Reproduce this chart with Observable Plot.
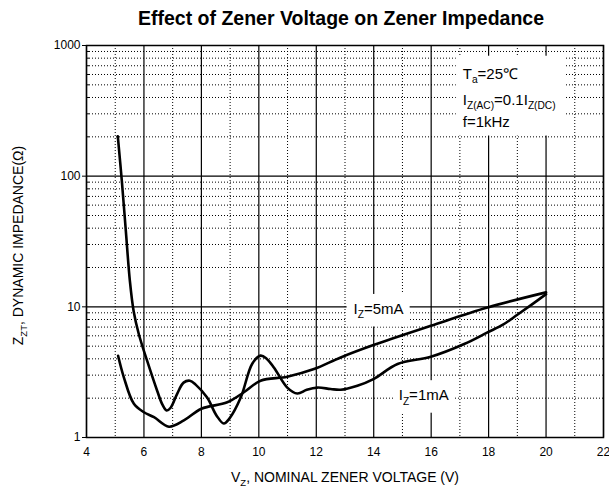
<!DOCTYPE html>
<html>
<head>
<meta charset="utf-8">
<script src="https://cdn.jsdelivr.net/npm/d3@7"></script>
<script src="https://cdn.jsdelivr.net/npm/@observablehq/plot@0.6"></script>
<style>
  body { margin: 0; background: #fff; }
  svg { font-family: "Liberation Sans", Arial, sans-serif; }
</style>
</head>
<body>
<div id="chart"></div>
<script>
// ---- data ----
// Iz = 1mA curve (nominal zener voltage V, impedance ohm)
const vz1mA = [5.09, 5.23, 5.37, 5.51, 5.64, 5.82, 6.11, 6.46, 6.64, 6.79, 6.93, 7.16, 7.38, 7.6, 7.8, 8.2, 8.53, 8.78, 8.98, 9.37, 9.77, 10.06, 10.27, 10.53, 10.99, 11.34, 11.67, 12.04, 12.5, 12.85, 13.43, 13.99, 14.83, 15.99, 17.15, 17.96, 18.5, 19.0, 19.5, 20.0];
const zz1mA = [202, 92, 38, 15.8, 9.3, 6.2, 3.87, 2.28, 1.79, 1.61, 1.69, 2.17, 2.63, 2.72, 2.54, 2.02, 1.47, 1.28, 1.40, 2.02, 3.67, 4.23, 4.01, 3.42, 2.41, 2.17, 2.32, 2.41, 2.35, 2.32, 2.49, 2.8, 3.65, 4.15, 5.19, 6.37, 7.3, 8.7, 10.4, 12.5];
// Iz = 5mA curve
const vz5mA = [5.1, 5.3, 5.65, 6.0, 6.35, 6.87, 7.39, 8.0, 8.9, 9.48, 10.06, 10.99, 11.92, 12.85, 13.99, 15.99, 17.96, 20.0];
const zz5mA = [4.22, 2.89, 1.81, 1.56, 1.43, 1.21, 1.35, 1.66, 1.86, 2.22, 2.72, 2.92, 3.34, 4.1, 5.1, 7.16, 9.88, 12.9];

// ---- ticks / grid ----
const xTicks = [4, 6, 8, 10, 12, 14, 16, 18, 20, 22];
const xMinorGrid = [5, 7, 9, 11, 13, 15, 17, 19, 21];
const yTicks = [1, 10, 100, 1000];
const yMinorGrid = [2, 3, 4, 5, 6, 7, 8, 9, 20, 30, 40, 50, 60, 70, 80, 90, 200, 300, 400, 500, 600, 700, 800, 900];

// ---- texts ----
const titleText = "Effect of Zener Voltage on Zener Impedance";
const xLabelText = "V_{Z}, NOMINAL ZENER VOLTAGE (V)";
const yLabelText = "Z_{ZT}, DYNAMIC IMPEDANCE(Ω)";
const curveLabels = ["I_{Z}=5mA", "I_{Z}=1mA"];
const curveLabelX = [13.3, 14.87];
const curveLabelY = [9.6, 2.1];
const condLines = ["T_{a}=25℃", "I_{Z(AC)}=0.1I_{Z(DC)}", "f=1kHz"];
const condX = [17.1, 17.1, 17.1];
const condY = [606, 384, 261];

const line1 = vz1mA.map((v, i) => ({x: v, y: zz1mA[i]}));
const line5 = vz5mA.map((v, i) => ({x: v, y: zz5mA[i]}));

const dotted = {stroke: "#000", strokeWidth: 1, strokeDasharray: "1 2"};
const solid = {stroke: "#000", strokeWidth: 1.2};

const chart = Plot.plot({
  width: 609,
  height: 492,
  marginLeft: 86,
  marginRight: 6,
  marginTop: 45,
  marginBottom: 55,
  style: {fontFamily: "Liberation Sans, Arial, sans-serif", fontSize: "12px", color: "#000", background: "#fff", overflow: "visible"},
  x: {domain: [4, 22], ticks: xTicks, tickSize: 0, tickPadding: 10, label: null},
  y: {type: "log", domain: [1, 1000], ticks: yTicks, tickFormat: d => String(d), tickSize: 4, tickPadding: 2, label: null},
  marks: [
    Plot.ruleY(yMinorGrid, dotted),
    Plot.ruleX(xMinorGrid, dotted),
    Plot.ruleY(yTicks, solid),
    Plot.ruleX(xTicks, solid),
    Plot.tickY(yMinorGrid, {stroke: "#000", strokeWidth: 1, insetRight: 514}),
    Plot.frame({stroke: "#000", strokeWidth: 1.5}),
    Plot.line(line1, {x: "x", y: "y", stroke: "#000", strokeWidth: 2.6, curve: "catmull-rom"}),
    Plot.line(line5, {x: "x", y: "y", stroke: "#000", strokeWidth: 2.6, curve: "catmull-rom"}),
    Plot.text([0], {x: () => curveLabelX[0], y: () => curveLabelY[0], text: () => curveLabels[0], textAnchor: "start", fontSize: 15, fill: "#000", className: "boxed-5"}),
    Plot.text([0], {x: () => curveLabelX[1], y: () => curveLabelY[1], text: () => curveLabels[1], textAnchor: "start", fontSize: 15, fill: "#000", className: "boxed-1"}),
    Plot.text(condLines, {x: (d, i) => condX[i], y: (d, i) => condY[i], text: d => d, textAnchor: "start", fontSize: 15, fill: "#000", className: "boxed-cond"}),
    Plot.text([titleText], {frameAnchor: "top", dx: -4, dy: -26.5, lineAnchor: "middle", textAnchor: "middle", text: d => d, fontSize: 19.5, fontWeight: "bold", fill: "#000"}),
    Plot.text([xLabelText], {frameAnchor: "bottom", dy: 40, lineAnchor: "middle", textAnchor: "middle", text: d => d, fontSize: 14, fill: "#000"}),
    Plot.text([yLabelText], {frameAnchor: "left", dx: -68, dy: 4, rotate: -90, lineAnchor: "middle", textAnchor: "middle", text: d => d, fontSize: 14, fill: "#000"})
  ]
});

document.getElementById("chart").appendChild(chart);

// subscripts: "_{...}" -> lowered smaller tspan
chart.querySelectorAll("text").forEach(t => {
  const s = t.textContent;
  if (!s.includes("_{")) return;
  const fs = parseFloat(getComputedStyle(t).fontSize) || 12;
  const parts = s.split(/_\{([^}]*)\}/);
  while (t.firstChild) t.removeChild(t.firstChild);
  let lowered = false;
  parts.forEach((p, i) => {
    if (!p) { return; }
    const ts = document.createElementNS("http://www.w3.org/2000/svg", "tspan");
    ts.textContent = p;
    if (i % 2 === 1) {
      ts.setAttribute("font-size", (fs * 0.68).toFixed(1));
      if (!lowered) { ts.setAttribute("dy", (fs * 0.3).toFixed(1)); lowered = true; }
    } else if (lowered) {
      ts.setAttribute("dy", (-fs * 0.3).toFixed(1));
      lowered = false;
    }
    t.appendChild(ts);
  });
});

// white boxes behind the in-plot labels
function boxBehind(cls, pl, pr, pt, pb) {
  const g = chart.querySelector("g." + cls) || chart.querySelector("." + cls);
  if (!g) return;
  const b = g.getBBox();
  const r = document.createElementNS("http://www.w3.org/2000/svg", "rect");
  r.setAttribute("x", b.x - pl);
  r.setAttribute("y", b.y - pt);
  r.setAttribute("width", b.width + pl + pr);
  r.setAttribute("height", b.height + pt + pb);
  r.setAttribute("fill", "#fff");
  r.setAttribute("stroke", "none");
  g.insertBefore(r, g.firstChild);
}
boxBehind("boxed-5", 7, 6, 6, 6);
boxBehind("boxed-1", 4, 5, 6, 6);
boxBehind("boxed-cond", 7, 10, 9, 6);
</script>
</body>
</html>
